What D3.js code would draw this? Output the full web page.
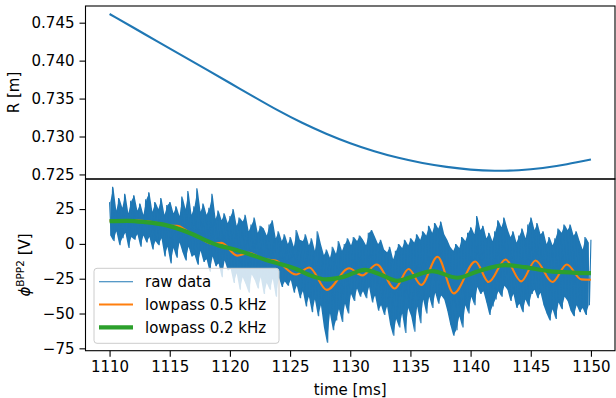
<!DOCTYPE html>
<html><head><meta charset="utf-8">
<script src="https://cdn.jsdelivr.net/npm/d3@7"></script>
<style>body{margin:0;background:#fff}svg{display:block}text{font-family:"DejaVu Sans",sans-serif}</style>
</head><body>
<svg id="c" width="616" height="398"></svg>
<script>
// ---- data ----
const xTicks = [1110,1115,1120,1125,1130,1135,1140,1145,1150];
const rTicks = [0.725,0.730,0.735,0.740,0.745];
const phiTicks = [-75,-50,-25,0,25];

const rTime = [1110,1112,1114,1116,1118,1120,1122,1124,1126,1128,1130,1132,1134,1136,1138,1140,1142,1144,1146,1148,1150];
const rValue = [0.74615,0.74433,0.74251,0.74069,0.73887,0.73705,0.73523,0.73344,0.73181,0.73037,0.72912,0.72806,0.72719,0.72651,0.72600,0.72564,0.72549,0.72556,0.72585,0.72635,0.72697];

const rawStart = 1110, rawStep = 0.125;
const rawValue = [
 30,6,41,2,24,9,33,-1,
 26,4,36,8,22,-3,31,5,
 35,3,24,7,29,-2,21,6,
 32,1,37,5,23,-4,30,2,
 25,-1,33,4,21,-9,28,-2,
 30,-14,22,-3,27,-10,20,1,
 34,-6,25,-12,38,-2,21,-9,
 27,-8,40,-15,23,-5,29,-13,
 21,-11,26,-20,36,-9,18,-16,
 24,-14,17,-24,22,-12,15,-19,
 20,-18,25,-28,13,-21,19,-33,
 16,-24,21,-29,9,-35,14,-22,
 19,-26,8,-32,13,-24,11,-36,
 6,-28,14,-33,17,-25,4,-38,
 9,-24,2,-31,7,-27,0,-30,
 5,-26,-2,-35,10,-30,3,-39,
 2,-34,7,-45,-1,-38,4,-49,
 -5,-40,9,-52,0,-44,-8,-60,
 -4,-71,-10,-50,-2,-62,-7,-55,
 2,-47,-5,-56,0,-43,4,-50,
 -1,-36,5,-41,2,-32,6,-38,
 3,-34,-1,-39,8,-31,10,-42,
 5,-37,0,-48,3,-44,-4,-51,
 -6,-45,-2,-58,-11,-66,-5,-54,
 0,-60,-3,-50,3,-64,-1,-46,
 4,-52,1,-63,7,-45,3,-57,
 9,-40,6,-50,13,-38,8,-46,
 15,-35,11,-43,16,-37,7,-40,
 3,-48,-2,-58,-5,-66,0,-62,
 -3,-52,5,-60,2,-44,8,-50,
 12,-38,7,-44,20,-31,10,-36,
 13,-34,4,-42,8,-51,2,-45,
 9,-40,17,-34,12,-38,19,-30,
 11,-33,5,-41,9,-36,1,-46,
 6,-43,11,-49,4,-40,14,-45,
 19,-36,10,-33,15,-39,7,-35,
 9,-44,0,-50,5,-55,-1,-47,
 4,-54,11,-42,8,-47,14,-38,
 10,-41,14,-48,6,-52,9,-44,
 2,-49,-4,-46,5,-51,1,-44,
 3];

const lp05Time = [1110,1112,1114,1115,1115.6,1116.5,1117.5,1118.5,1119.3,1120.6,1121.6,1122.7,1123.8,1125.5,1126.6,1128.05,1129.9,1131.0,1132.2,1133.7,1134.85,1135.9,1137.25,1138.6,1140.4,1141.5,1142.9,1144.2,1145.4,1146.8,1148.0,1149.2,1150];
const lp05Value = [16.5,17,15,13,13,9,4.5,0.2,0.7,-8.4,-6.4,-10.7,-12,-22,-17,-33,-17.5,-22.6,-14.8,-32,-18,-29.5,-9.2,-35.5,-12.6,-27.4,-11.2,-26.9,-11.9,-27.4,-14.8,-25.5,-25.7];

const lp02Time = [1110,1111.5,1113,1114.5,1116,1117,1118,1119,1120.3,1121.5,1123,1124.1,1125.5,1126.5,1128,1129.5,1131.2,1132.5,1133.9,1135.3,1136.8,1138.9,1140.5,1142.9,1144.5,1146.5,1148.5,1150];
const lp02Value = [16.3,16.6,15.6,13.8,10,6.6,2.5,-1,-3.8,-7,-11.5,-14.3,-18,-22,-25.5,-23.5,-18.6,-22,-26.5,-23,-19.5,-24.3,-20,-15.2,-16.7,-19.5,-20.6,-21];

const legendLabels = ["raw data","lowpass 0.5 kHz","lowpass 0.2 kHz"];
const colors = ["#1f77b4","#ff7f0e","#2ca02c"];

// ---- layout ----
const L = 85.5, R = 615, T = 6, M = 179, B = 350.7;
const svg = d3.select("#c");
const x = d3.scaleLinear().domain([1108,1152]).range([L,R]);
const yR = d3.scaleLinear().domain([0.7244,0.7472]).range([M,T]);
const yP = d3.scaleLinear().domain([-76.7,46.6]).range([B,M]);

// top panel line
const rData = rTime.map((t,i)=>[t,rValue[i]]);
svg.append("path").datum(rData)
  .attr("d", d3.line().x(d=>x(d[0])).y(d=>yR(d[1])).curve(d3.curveNatural))
  .attr("fill","none").attr("stroke",colors[0]).attr("stroke-width",2.1);

// bottom panel: raw samples
const rawData = rawValue.map((v,i)=>[rawStart+i*rawStep,v]);
const rawPairs = d3.range(0, rawValue.length-1, 2).map(i=>({
  t: rawStart+(i+0.5)*rawStep, hi: Math.max(rawValue[i],rawValue[i+1]), lo: Math.min(rawValue[i],rawValue[i+1])
}));
svg.append("path").datum(rawPairs)
  .attr("d", d3.area().x(d=>x(d.t)).y0(d=>yP(d.lo)).y1(d=>yP(d.hi)))
  .attr("fill",colors[0]);
svg.append("path").datum(rawData)
  .attr("d", d3.line().x(d=>x(d[0])).y(d=>yP(d[1])))
  .attr("fill","none").attr("stroke",colors[0]).attr("stroke-width",1.1);

const lp05 = lp05Time.map((t,i)=>[t,lp05Value[i]]);
svg.append("path").datum(lp05)
  .attr("d", d3.line().x(d=>x(d[0])).y(d=>yP(d[1])).curve(d3.curveMonotoneX))
  .attr("fill","none").attr("stroke",colors[1]).attr("stroke-width",2.1);

const lp02 = lp02Time.map((t,i)=>[t,lp02Value[i]]);
svg.append("path").datum(lp02)
  .attr("d", d3.line().x(d=>x(d[0])).y(d=>yP(d[1])).curve(d3.curveMonotoneX))
  .attr("fill","none").attr("stroke",colors[2]).attr("stroke-width",4.2);

// axes
function styleAxis(g){
  g.select(".domain").remove();
  g.selectAll("line").attr("stroke","#000").attr("stroke-width",1.1);
  g.selectAll("text").attr("font-size","15px").attr("fill","#000").attr("font-family","DejaVu Sans");
}
svg.append("g").attr("transform",`translate(${L},0)`)
  .call(d3.axisLeft(yR).tickValues(rTicks).tickFormat(d3.format(".3f")).tickSize(6).tickPadding(5))
  .call(styleAxis);
svg.append("g").attr("transform",`translate(${L},0)`)
  .call(d3.axisLeft(yP).tickValues(phiTicks).tickFormat(d3.format("d")).tickSize(6).tickPadding(5))
  .call(styleAxis);
svg.append("g").attr("transform",`translate(0,${B})`)
  .call(d3.axisBottom(x).tickValues(xTicks).tickFormat(d3.format("d")).tickSize(6).tickPadding(5))
  .call(styleAxis);

// spines
[[T,M],[M,B]].forEach(([a,b])=>{
  svg.append("rect").attr("x",L).attr("y",a).attr("width",R-L).attr("height",b-a)
    .attr("fill","none").attr("stroke","#000").attr("stroke-width",1.1);
});

// legend
const lg = svg.append("g");
lg.append("rect").attr("x",94).attr("y",268.3).attr("width",185).attr("height",75)
  .attr("rx",3).attr("fill","#fff").attr("fill-opacity",0.8).attr("stroke","#ccc").attr("stroke-width",1);
const lw = [1.1,2.1,4.2];
legendLabels.forEach((lab,i)=>{
  const yy = 281.7 + i*22.8;
  lg.append("line").attr("x1",99).attr("x2",133).attr("y1",yy).attr("y2",yy)
    .attr("stroke",colors[i]).attr("stroke-width",lw[i]);
  lg.append("text").attr("x",145).attr("y",yy).attr("dy","0.36em").attr("font-size","15px").text(lab);
});

// labels
svg.append("text").attr("transform","translate(19,92.5) rotate(-90)")
  .attr("text-anchor","middle").attr("font-size","15px").text("R [m]");
const pl = svg.append("text").attr("transform","translate(30,265) rotate(-90)")
  .attr("text-anchor","middle").attr("font-size","15px");
pl.append("tspan").attr("font-style","italic").text("ϕ");
pl.append("tspan").attr("font-size","10.5px").attr("dy","-6").text("BPP2");
pl.append("tspan").attr("dy","6").text(" [V]");
svg.append("text").attr("x",(L+R)/2).attr("y",395).attr("text-anchor","middle")
  .attr("font-size","15px").text("time [ms]");
</script>
</body></html>
